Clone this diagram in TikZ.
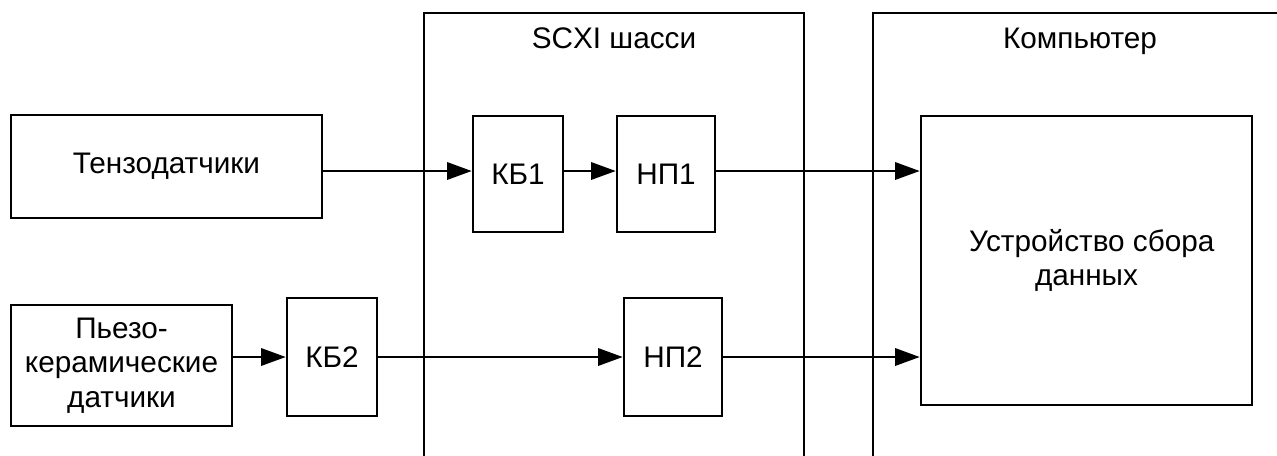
\documentclass[tikz,border=0pt]{standalone}
\usepackage{fontspec}
\setmainfont{Liberation Sans}
\usetikzlibrary{arrows.meta}
\begin{document}
\begin{tikzpicture}[x=0.75pt,y=-0.75pt,
  every node/.style={font=\fontsize{22.3}{25.8}\selectfont, inner sep=0pt},
  blockbox/.style={draw, line width=1.9pt, align=center},
  frame/.style={draw, line width=1.9pt},
  conn/.style={line width=1.8pt, -{Triangle[length=18.5pt,width=13pt]}}]
\useasboundingbox (0,0) rectangle (1277,455);
% containers
\draw[frame] (424,458) -- (424,13) -- (804,13) -- (804,458);
\draw[frame] (873,458) -- (873,13) -- (1290,13);
\node[anchor=base] (scxi) at (614,48) {SCXI шасси};
\node[anchor=base] (comp) at (1080,48) {Компьютер};
% blocks
\node[blockbox, minimum width=233.25pt, minimum height=77.25pt] (tenzo) at (166.5,166.5) {Тензодатчики};
\node[blockbox, minimum width=165.75pt, minimum height=90.75pt] (piezo) at (121.5,365.5) {Пьезо-\\керамические\\датчики};
\node[blockbox, minimum width=67.5pt, minimum height=88.5pt] (kb2) at (332,357) {КБ2};
\node[blockbox, minimum width=67.5pt, minimum height=87pt] (kb1) at (518,174) {КБ1};
\node[blockbox, minimum width=73.5pt, minimum height=87pt] (np1) at (666,174) {НП1};
\node[blockbox, minimum width=73.5pt, minimum height=88.5pt] (np2) at (673,357) {НП2};
\node[blockbox, minimum width=248.25pt, minimum height=216.75pt] (dev) at (1086.5,260.5) {\hspace*{8pt}Устройство сбора\\данных};
% rows
\coordinate (r1) at (0,171);
\coordinate (r2) at (0,357);
% connectors
\draw[conn] (tenzo.east |- r1) -- (kb1.west |- r1);
\draw[conn] (kb1.east |- r1) -- (np1.west |- r1);
\draw[conn] (np1.east |- r1) -- (dev.west |- r1);
\draw[conn] (piezo.east |- r2) -- (kb2.west |- r2);
\draw[conn] (kb2.east |- r2) -- (np2.west |- r2);
\draw[conn] (np2.east |- r2) -- (dev.west |- r2);
\end{tikzpicture}
\end{document}
